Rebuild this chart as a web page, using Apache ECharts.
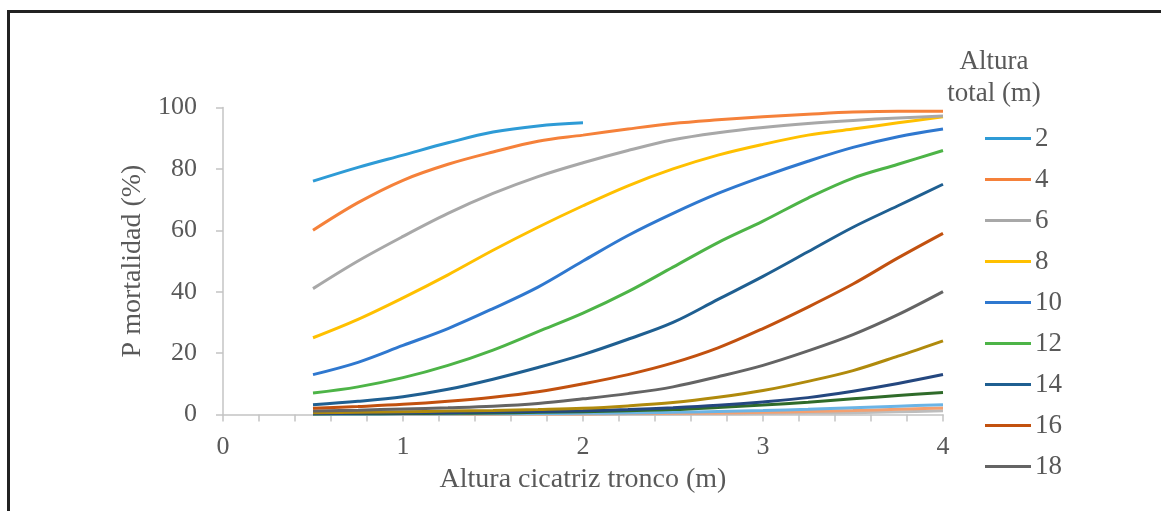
<!DOCTYPE html>
<html>
<head>
<meta charset="utf-8">
<script src="https://cdn.jsdelivr.net/npm/echarts@6/dist/echarts.min.js"></script>
<style>
  html, body { margin: 0; padding: 0; background: #fff; }
  #chart { width: 1161px; height: 511px; }
</style>
</head>
<body>
<div id="chart"></div>
<script>
// x positions (altura cicatriz tronco, m)
var xVals = [0.5, 0.75, 1, 1.25, 1.5, 1.75, 2, 2.25, 2.5, 2.75, 3, 3.25, 3.5, 3.75, 4];

// P mortalidad (%) per altura total
var h2  = [76, 80.5, 84.5, 88.5, 92, 94, 95];
var h4  = [60, 69, 76.3, 81.5, 85.5, 89, 91, 93, 94.8, 96, 97, 97.8, 98.5, 98.8, 98.8];
var h6  = [41, 50, 58, 65.5, 72, 77.5, 82, 86, 89.5, 91.8, 93.5, 94.8, 95.8, 96.6, 97.2];
var h8  = [25, 31, 38, 45.5, 53.5, 61, 68, 74.5, 80, 84.5, 88, 91, 93, 95, 97];
var h10 = [13, 17, 22.5, 28, 34.5, 41.5, 50, 58.3, 65.5, 72, 77.5, 82.5, 87, 90.5, 93];
var h12 = [7, 9, 12, 16, 21, 27, 33, 40, 48, 56, 63, 70.5, 77, 81.5, 86];
var h14 = [3.2, 4.3, 5.8, 8.2, 11.5, 15.3, 19.5, 24.5, 30, 37.5, 45, 53, 61, 68, 75];
var h16 = [2, 2.6, 3.3, 4.3, 5.6, 7.4, 10, 13, 16.8, 21.7, 28, 35, 42.5, 51, 59];
var h18 = [1.1, 1.4, 1.8, 2.2, 2.7, 3.6, 5.1, 6.8, 9, 12.3, 16, 20.7, 26, 32.5, 40];
var h20 = [0.6, 0.7, 0.9, 1.1, 1.3, 1.6, 2, 2.8, 3.9, 5.6, 7.8, 10.8, 14.3, 19, 24];
var h22 = [0.3, 0.4, 0.5, 0.6, 0.8, 1, 1.2, 1.6, 2.2, 3, 4.1, 5.5, 7.6, 10.1, 13];
var h24 = [0.2, 0.25, 0.3, 0.4, 0.5, 0.7, 0.9, 1.2, 1.6, 2.3, 3.1, 4, 5.1, 6.2, 7.2];
var h26 = [0.1, 0.1, 0.15, 0.2, 0.25, 0.3, 0.4, 0.5, 0.7, 1, 1.3, 1.7, 2.2, 2.7, 3.2];
var h28 = [0.05, 0.05, 0.07, 0.1, 0.12, 0.15, 0.2, 0.3, 0.4, 0.5, 0.7, 1, 1.3, 1.7, 2.1];
var h30 = [0.02, 0.03, 0.03, 0.04, 0.05, 0.07, 0.1, 0.13, 0.18, 0.25, 0.3, 0.45, 0.6, 0.9, 1.2];

var seriesNames = ['2', '4', '6', '8', '10', '12', '14', '16', '18', '20', '22', '24', '26', '28', '30'];
var seriesData = [h2, h4, h6, h8, h10, h12, h14, h16, h18, h20, h22, h24, h26, h28, h30];
var legendNames = ['2', '4', '6', '8', '10', '12', '14', '16', '18'];

var colors = ['#2E9BD6', '#F5813A', '#A8A8A8', '#FFC000', '#2F78CF', '#4DB447', '#1F5F91', '#C2510F',
              '#646464', '#B08A0C', '#24477F', '#2F6B2A', '#6BB4E6', '#F4A070', '#BDBDBD'];

var fontFam = '"Liberation Serif", "DejaVu Serif", serif';
var textCol = '#595959';

var series = [];
for (var i = 0; i < seriesData.length; i++) {
    var pts = [];
    for (var j = 0; j < seriesData[i].length; j++) {
        pts.push([xVals[j], seriesData[i][j]]);
    }
    series.push({
        name: seriesNames[i],
        type: 'line',
        data: pts,
        smooth: 0.35,
        showSymbol: false,
        color: colors[i],
        lineStyle: { width: 3 },
        z: 20 - i
    });
}

var chartDom = document.getElementById('chart');
var myChart = echarts.init(chartDom);
var option;

option = {
    animation: false,
    backgroundColor: '#fff',
    grid: { left: 223, right: 218, top: 107.5, bottom: 96.5 },
    xAxis: {
        type: 'value',
        min: 0,
        max: 4,
        interval: 0.2,
        name: 'Altura cicatriz tronco (m)',
        nameLocation: 'middle',
        nameGap: 51,
        nameTextStyle: { fontFamily: fontFam, fontSize: 28, color: textCol },
        axisLine: { lineStyle: { color: '#C4C4C4', width: 1.5 } },
        axisTick: { length: 7, lineStyle: { color: '#C4C4C4', width: 1.5 } },
        axisLabel: {
            fontFamily: fontFam, fontSize: 26, color: textCol, margin: 20,
            formatter: function (v) {
                return Math.abs(v - Math.round(v)) < 1e-6 ? String(Math.round(v)) : '';
            }
        },
        splitLine: { show: false }
    },
    yAxis: {
        type: 'value',
        min: 0,
        max: 100,
        interval: 20,
        name: 'P mortalidad (%)',
        nameLocation: 'middle',
        nameGap: 70,
        nameTextStyle: { fontFamily: fontFam, fontSize: 28, color: textCol },
        axisLine: { show: true, lineStyle: { color: '#C4C4C4', width: 1.5 } },
        axisTick: { show: true, length: 7, lineStyle: { color: '#C4C4C4', width: 1.5 } },
        axisLabel: { fontFamily: fontFam, fontSize: 26, color: textCol, margin: 26 },
        splitLine: { show: false }
    },
    legend: {
        data: legendNames,
        orient: 'vertical',
        left: 980,
        top: 120,
        icon: 'rect',
        itemWidth: 46,
        itemHeight: 3,
        itemGap: 14,
        selectedMode: false,
        textStyle: { fontFamily: fontFam, fontSize: 27, color: textCol, padding: [0, 0, 0, -1] }
    },
    graphic: [
        {
            type: 'rect',
            shape: { x: 8.5, y: 11.5, width: 1200, height: 600 },
            style: { fill: 'none', stroke: '#222', lineWidth: 3 },
            silent: true
        },
        {
            type: 'text',
            x: 994,
            y: 46,
            style: {
                text: 'Altura\ntotal (m)',
                font: '27px ' + fontFam,
                fill: textCol,
                align: 'center',
                verticalAlign: 'top',
                lineHeight: 32
            }
        }
    ],
    series: series
};

myChart.setOption(option);
</script>
</body>
</html>
